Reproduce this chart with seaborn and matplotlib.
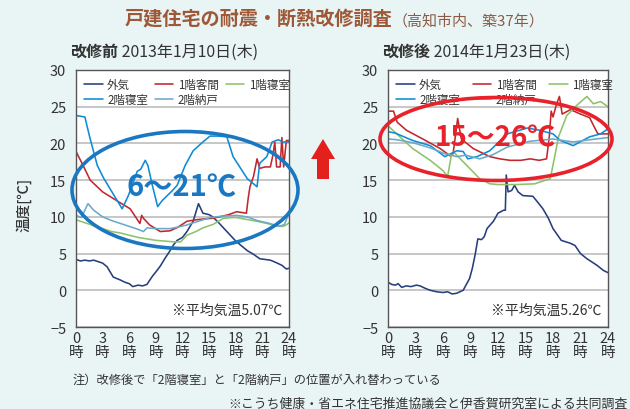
import numpy as np
import pandas as pd
import matplotlib
matplotlib.use("Agg")
import matplotlib.pyplot as plt
from matplotlib.patches import Ellipse, Polygon
import seaborn as sns

# ---- data (hour of day, temperature in C) ----
series_names = ["外気", "1階客間", "1階寝室", "2階寝室", "2階納戸"]
hour_ticks = [0, 3, 6, 9, 12, 15, 18, 21, 24]
hour_labels = [f"{h}\n時" for h in hour_ticks]

# before renovation 2013-01-10
pre_out_h = [0, 0.5, 1, 1.5, 2, 2.5, 3, 3.5, 4.2, 5, 5.5, 6, 6.4, 7, 7.5, 8, 8.6, 9, 9.5, 10,
             10.6, 11, 11.4, 12, 12.5, 13.2, 13.8, 14.3, 15, 15.4, 16, 17, 18, 19.3, 20, 20.7,
             21.3, 21.9, 22.5, 23.2, 23.7, 24]
pre_out_t = [4.2, 4.0, 4.1, 4.0, 4.1, 3.9, 3.7, 3.2, 1.8, 1.4, 1.1, 0.9, 0.5, 0.7, 0.6, 0.8, 1.9,
             2.5, 3.3, 4.3, 5.4, 6.2, 6.8, 7.2, 8.0, 9.4, 11.8, 10.5, 10.3, 10.0, 9.3, 8.0, 6.7,
             5.4, 4.9, 4.3, 4.2, 4.1, 3.8, 3.4, 2.9, 3.0]
pre_liv_h = [0, 0.8, 1.6, 3, 4.6, 6.1, 7.2, 7.4, 7.6, 8.3, 9.5, 10.6, 11.5, 12.5, 13.5, 14.3,
             15.3, 16.2, 17.2, 18.1, 19.2, 19.4, 19.6, 20.0, 20.4, 20.7, 21.3, 21.9, 22.2, 22.4,
             22.6, 23.0, 23.2, 23.4, 23.7, 24]
pre_liv_t = [18.9, 17.0, 15.0, 13.4, 12.2, 11.1, 9.1, 10.2, 9.8, 8.9, 8.0, 8.1, 8.6, 9.4, 9.6,
             9.7, 9.8, 10.0, 10.3, 10.7, 10.5, 12.5, 14.1, 15.5, 17.9, 16.6, 16.8, 16.8, 18.5,
             20.2, 16.8, 16.8, 20.8, 16.8, 20.4, 20.4]
pre_bed1_h = [0, 1, 2, 3, 4, 5, 6, 7, 8, 9, 10, 11, 11.8, 12.5, 13.5, 14.3, 15.5, 16.6, 17.5,
              18.1, 19, 20.4, 21.5, 22.5, 23.3, 23.7, 24]
pre_bed1_t = [9.6, 9.2, 8.8, 8.4, 8.0, 7.8, 7.5, 7.2, 7.0, 6.8, 6.7, 6.6, 6.6, 7.5, 8.0, 8.5,
              9.0, 9.8, 9.9, 9.9, 9.7, 9.4, 9.1, 8.8, 8.7, 8.9, 9.2]
pre_bed2_h = [0, 1, 1.6, 2.4, 3.1, 3.8, 4.5, 5.2, 5.9, 6.4, 6.9, 7.3, 7.8, 8.1, 8.6, 9.2, 9.7,
              10.2, 10.8, 11.4, 12.3, 13.2, 14.3, 15.1, 16, 17, 17.7, 18.5, 19.3, 20.4, 20.7,
              21.5, 22.1, 22.8, 23.3, 24]
pre_bed2_t = [23.8, 23.6, 20.6, 17.0, 15.3, 13.9, 12.5, 11.1, 12.9, 14.5, 16.2, 16.5, 17.7,
              17.0, 14.3, 11.4, 12.2, 12.8, 13.5, 14.3, 17.0, 19.0, 20.2, 21.0, 21.0, 20.9,
              18.2, 16.7, 15.2, 14.1, 17.3, 18.2, 20.2, 20.5, 20.2, 20.2]
pre_store_h = [0, 0.6, 1.35, 2, 3, 4, 5, 6, 7, 7.6, 8, 9, 10.6, 11.5, 12.5, 13.5, 15.1, 16.5,
               18.1, 19.3, 20.4, 21.5, 23, 23.5, 24]
pre_store_t = [10.2, 9.9, 11.8, 10.9, 10.0, 9.5, 9.1, 8.7, 8.3, 8.0, 8.5, 8.4, 8.4, 8.6, 8.9,
               9.3, 9.9, 10.1, 10.2, 10.0, 9.5, 9.2, 8.7, 9.0, 10.5]

# after renovation 2014-01-23
post_out_h = [0, 0.4, 0.8, 1.1, 1.5, 2, 2.5, 3.1, 3.5, 4, 4.6, 5.3, 6, 6.5, 7, 7.5, 8.2, 8.9,
              9.2, 9.5, 9.8, 10.2, 10.5, 10.8, 11.5, 12, 12.6, 12.8, 12.9, 13.1, 13.5, 13.8,
              14.2, 14.7, 15.8, 16.2, 16.9, 17.5, 18, 18.9, 19.9, 20.4, 21, 21.7, 22.8, 23.5, 24]
post_out_t = [1.1, 0.8, 0.7, 0.9, 0.4, 0.6, 0.5, 0.7, 0.6, 0.3, 0.0, -0.2, -0.3, -0.2, -0.5,
              -0.4, 0.0, 1.6, 3.0, 4.8, 7.0, 6.9, 7.3, 8.4, 9.4, 10.5, 10.9, 10.9, 15.7, 13.4,
              13.6, 14.3, 13.4, 12.9, 12.8, 12.2, 11.1, 9.8, 8.4, 6.8, 6.4, 6.1, 5.0, 4.3, 3.4,
              2.7, 2.4]
post_liv_h = [0, 0.6, 1.0, 2.0, 3.8, 5.7, 6.8, 7.1, 7.6, 8.0, 9.3, 11.1, 12.2, 13.3, 14.5, 15.5,
              16.5, 17.3, 17.6, 17.8, 18.0, 18.4, 18.7, 19.0, 19.9, 21.0, 22.0, 22.6, 22.9, 24]
post_liv_t = [24.4, 24.4, 22.9, 21.8, 20.6, 19.3, 18.3, 18.6, 23.4, 20.6, 19.3, 18.2, 17.9,
              17.7, 17.7, 17.9, 17.7, 17.9, 21.0, 24.4, 23.6, 25.4, 26.4, 24.0, 24.6, 24.0,
              23.5, 22.0, 21.3, 21.3]
post_bed1_h = [0, 1.3, 2.7, 4.6, 6.0, 6.5, 6.9, 7.1, 8.6, 10, 11.1, 12, 14, 16, 17.7, 18.2,
               18.6, 19.5, 20.6, 21.7, 22.4, 23.2, 24]
post_bed1_t = [22.4, 20.9, 19.3, 17.7, 16.3, 15.5, 18.3, 18.9, 17.0, 15.2, 14.5, 14.4, 14.4,
               14.5, 15.2, 18.3, 20.9, 23.8, 25.2, 26.4, 25.4, 25.7, 25.0]
post_bed2_h = [0, 0.8, 2.7, 4.6, 6.2, 7.5, 8.2, 8.7, 9.7, 11.1, 13, 15.2, 16.5, 18, 18.8, 20.2,
               22, 23.2, 24]
post_bed2_t = [21.6, 21.4, 20.4, 19.7, 18.2, 19.0, 18.9, 17.9, 18.2, 19.0, 21.3, 22.1, 21.8,
               21.3, 20.4, 19.7, 20.9, 21.3, 22.0]
post_store_h = [0, 1, 2.7, 4.6, 6.2, 7.5, 8.5, 10, 11.5, 13, 15.5, 18, 20.2, 22, 24]
post_store_t = [20.6, 20.5, 20.1, 19.4, 18.6, 18.2, 18.4, 17.9, 18.5, 19.5, 20.3, 20.6, 20.2,
                20.5, 20.8]


def long_frame(pairs):
    rows = []
    for name, (hs, ts) in zip(series_names, pairs):
        rows.append(pd.DataFrame({"hour": hs, "temp": ts, "series": name}))
    return pd.concat(rows, ignore_index=True)


df_pre = long_frame([(pre_out_h, pre_out_t), (pre_liv_h, pre_liv_t), (pre_bed1_h, pre_bed1_t),
                     (pre_bed2_h, pre_bed2_t), (pre_store_h, pre_store_t)])
df_post = long_frame([(post_out_h, post_out_t), (post_liv_h, post_liv_t),
                      (post_bed1_h, post_bed1_t), (post_bed2_h, post_bed2_t),
                      (post_store_h, post_store_t)])

palette = {"外気": "#253f7c", "1階客間": "#c1272d", "1階寝室": "#8dc26a",
           "2階寝室": "#0e8bd6", "2階納戸": "#6aaac8"}

sns.set_theme(style="white")
plt.rcParams["font.family"] = ["Noto Sans CJK JP", "DejaVu Sans"]

bg = "#e9f5f4"
fig = plt.figure(figsize=(6.3, 4.1), dpi=100, facecolor=bg)
ax1 = fig.add_axes([76 / 630, 1 - 328 / 410, 213 / 630, 257 / 410])
ax2 = fig.add_axes([388 / 630, 1 - 328 / 410, 220 / 630, 257 / 410])

panels = [(ax1, df_pre, "改修前", " 2013年1月10日(木)", "※平均気温5.07℃", 0.6),
          (ax2, df_post, "改修後", " 2014年1月23日(木)", "※平均気温5.26℃", 1.1)]

for ax, df, head, date, avg, colsp in panels:
    sns.lineplot(data=df, x="hour", y="temp", hue="series", hue_order=series_names,
                 palette=palette, linewidth=1.15, estimator=None, sort=False, ax=ax)
    ax.set_xlim(0, 24)
    ax.set_ylim(-5, 30)
    ax.set_yticks(range(-5, 31, 5))
    ax.set_yticklabels(["−5"] + [str(v) for v in range(0, 31, 5)])
    ax.set_xticks(hour_ticks)
    ax.set_xticklabels(hour_labels, linespacing=0.95)
    ax.set_xlabel("")
    ax.set_ylabel("")
    ax.set_facecolor("white")
    ax.yaxis.grid(True, color="#bdbdbd", linewidth=1.2)
    ax.set_axisbelow(True)
    for sp in ax.spines.values():
        sp.set_color("#555555")
        sp.set_linewidth(1.0)
    ax.tick_params(axis="both", labelsize=10.5, colors="#333333", length=0, pad=3)
    ax.tick_params(axis="y", length=4, direction="out", color="#555555")

    handles, labels = ax.get_legend_handles_labels()
    lut = dict(zip(labels, handles))
    order = ["外気", "2階寝室", "1階客間", "2階納戸", "1階寝室"]
    ax.legend([lut[k] for k in order], order, ncol=3, loc="upper left",
              bbox_to_anchor=(0.0, 1.0), frameon=False, fontsize=8.3,
              handlelength=1.6, handletextpad=0.4, columnspacing=colsp,
              labelspacing=0.15, borderaxespad=0.3, labelcolor="#333333")

    ax.text(0.97, 0.04, avg, transform=ax.transAxes, ha="right", va="bottom",
            fontsize=10, color="#333333")

    pos = ax.get_position()
    t1 = fig.text(pos.x0 - 6 / 630, 1 - 52 / 410, head, fontsize=11.5, fontweight="bold",
                  color="#333333", va="center", ha="left")
    ax.annotate(date, xy=(1, 0.5), xycoords=t1, va="center", ha="left",
                fontsize=11.5, color="#333333", annotation_clip=False)

# figure title
tt = fig.text(125 / 630, 1 - 20 / 410, "戸建住宅の耐震・断熱改修調査", fontsize=13.8,
              fontweight="bold", color="#9e5838", va="center", ha="left")
ax1.annotate("（高知市内、築37年）", xy=(1, 0.45), xycoords=tt, va="center", ha="left",
             fontsize=10.8, color="#8a5a44", annotation_clip=False)

# y label
fig.text(24 / 630, 1 - 205 / 410, "温度[℃]", rotation=90, fontsize=10.5, color="#333333",
         fontweight="medium", va="center", ha="center")

# highlight ellipses and ranges
fig.add_artist(Ellipse((185 / 630, 1 - 191 / 410), 226 / 630, 117 / 410,
                       transform=fig.transFigure, fill=False, ec="#1a78c2", lw=2.6))
fig.text(182 / 630, 1 - 187 / 410, "6～21℃", fontsize=21, fontweight="bold",
         color="#1a78c2", ha="center", va="center")
fig.add_artist(Ellipse((496 / 630, 1 - 140 / 410), 232 / 630, 83 / 410,
                       transform=fig.transFigure, fill=False, ec="#e8212a", lw=2.6))
fig.text(495 / 630, 1 - 138 / 410, "15～26℃", fontsize=20, fontweight="bold",
         color="#e8212a", ha="center", va="center")

# red up arrow between panels
arrow_px = [(317, 180), (329, 180), (329, 160), (335, 160), (323, 140), (311, 160), (317, 160)]
fig.add_artist(Polygon([(x / 100, (410 - y) / 100) for x, y in arrow_px], closed=True,
                       transform=fig.dpi_scale_trans, fc="#e3201c", ec="none"))

# notes
fig.text(73 / 630, 1 - 380 / 410, "注）改修後で「2階寝室」と「2階納戸」の位置が入れ替わっている",
         fontsize=8.8, color="#333333", va="center", ha="left")
fig.text(228 / 630, 1 - 404 / 410, "※こうち健康・省エネ住宅推進協議会と伊香賀研究室による共同調査",
         fontsize=9.3, color="#333333", va="center", ha="left")

fig.savefig("out.png", dpi=100, facecolor=bg)
